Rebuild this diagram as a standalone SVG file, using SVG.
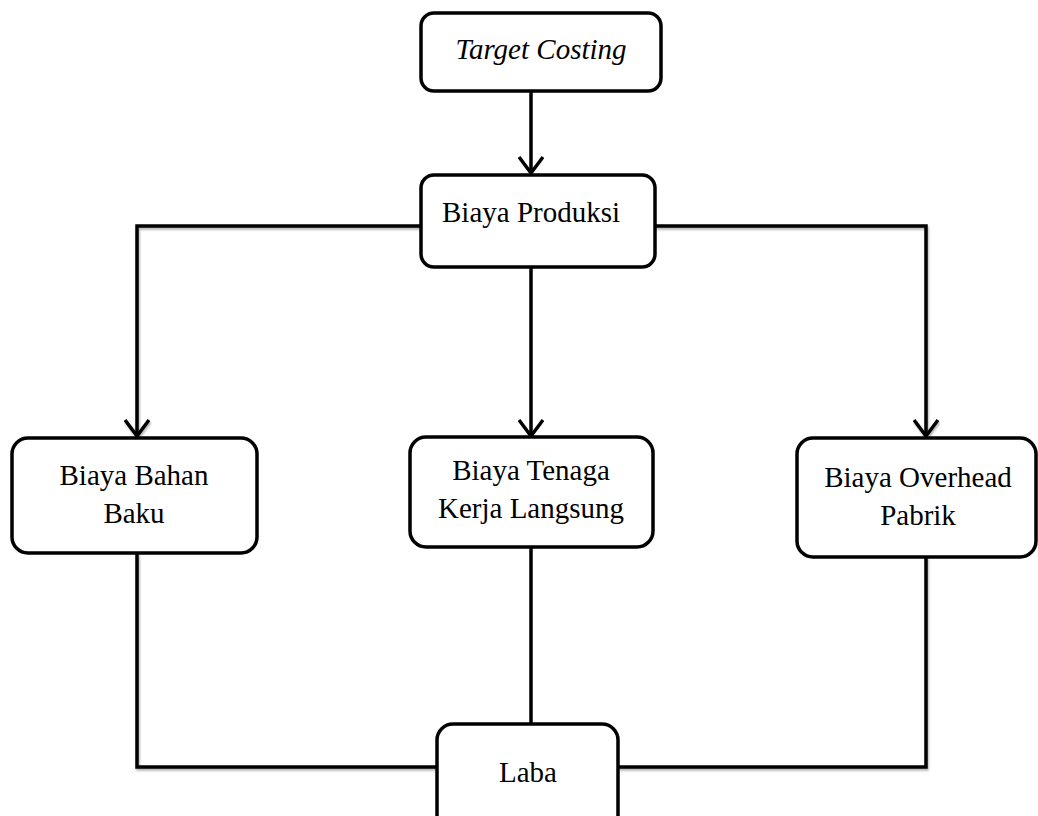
<svg xmlns="http://www.w3.org/2000/svg" width="1038" height="816" viewBox="0 0 1038 816">
<style>
.box{fill:#fff;stroke:#000;stroke-width:3.5}
.ln{fill:none;stroke:#000;stroke-width:3.5}
.t{font-family:"Liberation Serif","Times New Roman",serif;font-size:29px;fill:#000;text-anchor:middle}
</style>
<defs>
<marker id="ah" viewBox="0 0 20 26" refX="18" refY="13" markerWidth="20" markerHeight="26" markerUnits="userSpaceOnUse" orient="auto">
<path d="M2,1 L18,13 L2,25" fill="none" stroke="#000" stroke-width="3.5"/>
</marker>
<filter id="sh" x="-5%" y="-5%" width="110%" height="130%">
<feDropShadow dx="1" dy="2" stdDeviation="1.2" flood-color="#000" flood-opacity="0.3"/>
</filter>
</defs>
<g id="connectors">
<path class="ln" d="M531,91 L531,173" marker-end="url(#ah)"/>
<path class="ln" filter="url(#sh)" d="M421,226 L137,226 L137,436" marker-end="url(#ah)"/>
<path class="ln" d="M531,267 L531,436" marker-end="url(#ah)"/>
<path class="ln" filter="url(#sh)" d="M655,226 L926,226 L926,436" marker-end="url(#ah)"/>
<path class="ln" filter="url(#sh)" d="M137,553 L137,767 L437,767"/>
<path class="ln" d="M531,547 L531,724"/>
<path class="ln" filter="url(#sh)" d="M926,557 L926,767 L618,767"/>
</g>
<g id="target-costing">
<rect class="box" x="421" y="13" width="240" height="78" rx="13"/>
<text class="t" x="541" y="59" font-style="italic">Target Costing</text>
</g>
<g id="biaya-produksi">
<rect class="box" x="421" y="175" width="234" height="92" rx="13"/>
<text class="t" x="531" y="222">Biaya Produksi</text>
</g>
<g id="biaya-bahan-baku">
<rect class="box" x="12" y="438" width="245" height="115" rx="16"/>
<text class="t" x="134" y="485">Biaya Bahan</text>
<text class="t" x="134" y="523">Baku</text>
</g>
<g id="biaya-tenaga-kerja">
<rect class="box" x="410" y="437" width="243" height="110" rx="16"/>
<text class="t" x="531" y="480">Biaya Tenaga</text>
<text class="t" x="531" y="518">Kerja Langsung</text>
</g>
<g id="biaya-overhead">
<rect class="box" x="797" y="438" width="239" height="119" rx="16"/>
<text class="t" x="918" y="487">Biaya Overhead</text>
<text class="t" x="918" y="525">Pabrik</text>
</g>
<g id="laba">
<rect class="box" x="437" y="724" width="181" height="110" rx="16"/>
<text class="t" x="528" y="782">Laba</text>
</g>
</svg>
